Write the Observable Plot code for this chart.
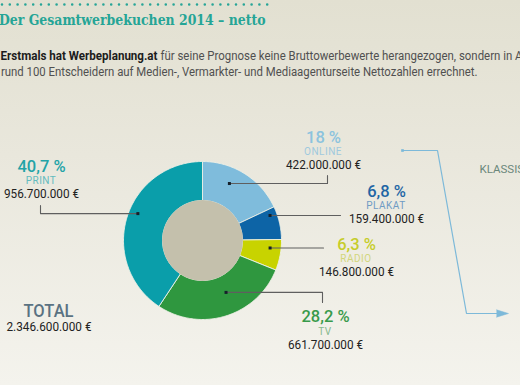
<!DOCTYPE html>
<html><head><meta charset="utf-8">
<script src="https://cdn.jsdelivr.net/npm/d3@7"></script>
<script src="https://cdn.jsdelivr.net/npm/@observablehq/plot@0.6"></script>
<style>
html,body{margin:0;padding:0;overflow:hidden;}
body{width:520px;height:385px;background:linear-gradient(to bottom,#e2e0d1 0%,#e9e7dc 40%,#f4f3ed 100%);}
#chart svg{display:block;overflow:hidden;}
</style></head><body><div id="chart"></div>
<script>
// ---------- data ----------
const categories = ["Online", "Plakat", "Radio", "TV", "Print"];
const shares = [18, 6.8, 6.3, 28.2, 40.7];
const shareLabels = ["18 %", "6,8 %", "6,3 %", "28,2 %", "40,7 %"];
const nameLabels = ["ONLINE", "PLAKAT", "RADIO", "TV", "PRINT"];
const amounts = [422000000, 159400000, 146800000, 661700000, 956700000];
const total = 2346600000;
const totalLabel = "TOTAL";
const titleText = "Der Gesamtwerbekuchen 2014 – netto";
const introBold = "Erstmals hat Werbeplanung.at";
const introLine1 = "für seine Prognose keine Bruttowerbewerte herangezogen, sondern in A";
const introLine2 = "rund 100 Entscheidern auf Medien-, Vermarkter- und Mediaagenturseite Nettozahlen errechnet.";
const sideLabel = "KLASSISCH";

// ---------- styles ----------
const sliceColors = ["#7fbcdc", "#0d64a6", "#c8d300", "#2f973f", "#0a9eaa"];
const pctColors = ["#8cc3de", "#1f66a5", "#c6cd2a", "#389a4a", "#23a3a7"];
const nameColors = ["#9fc9de", "#6f9bc4", "#d2d67c", "#86b98d", "#62bbbe"];

// ---------- layout ----------
const W = 520, H = 385;
const donut = {cx: 202, cy: 240, r0: 40, r1: 79};
const labelPos = [{x: 323, y: 142}, {x: 386, y: 196}, {x: 356, y: 249}, {x: 325, y: 321.5}, {x: 41, y: 171}];
const leaders = [
  {t: 0.39, r: 63, x: 327, y: 175},
  {t: 0.20, r: 72, x: 340, y: null},
  {t: 0.31, r: 68, x: 323, y: null},
  {t: 0.43, r: 57, x: 322, y: 302},
  {t: 0.54, r: 70, x: 40, y: 205}
];
const arrowPath = [{x: 402, y: 150}, {x: 437, y: 150}, {x: 466, y: 313}, {x: 498, y: 313}];
const arrowHead = [{x: 496, y: 309.3}, {x: 508, y: 313}, {x: 496, y: 316.7}];

const fmt = d3.formatLocale({decimal: ",", thousands: ".", grouping: [3], currency: ["", ""]}).format(",.0f");
const euro = v => fmt(v) + " €";

// slice polygons from shares
const sum = d3.sum(shares);
const cum = d3.cumsum(shares);
const slicePts = [];
const angles = categories.map((c, i) => {
  const a0 = (i ? cum[i - 1] : 0) / sum * 2 * Math.PI;
  const a1 = cum[i] / sum * 2 * Math.PI;
  return [a0, a1];
});
const pt = (a, r) => ({x: donut.cx + r * Math.sin(a), y: donut.cy - r * Math.cos(a)});
categories.forEach((c, i) => {
  const [a0, a1] = angles[i];
  const n = Math.max(2, Math.ceil((a1 - a0) / (Math.PI / 180)));
  const pts = [];
  for (let k = 0; k <= n; k++) pts.push(pt(a0 + (a1 - a0) * k / n, donut.r1));
  for (let k = n; k >= 0; k--) pts.push(pt(a0 + (a1 - a0) * k / n, donut.r0));
  pts.push(pts[0]);
  pts.forEach(p => slicePts.push({cat: c, ...p}));
});

// leader dots and lines
const dots = [], leaderPts = [];
categories.forEach((c, i) => {
  const [a0, a1] = angles[i];
  const L = leaders[i];
  const d = pt(a0 + (a1 - a0) * L.t, L.r);
  dots.push(d);
  leaderPts.push({k: i, ...d}, {k: i, x: L.x, y: d.y});
  if (L.y != null) leaderPts.push({k: i, x: L.x, y: L.y});
});

const marks = [
  Plot.ruleY([4], {x1: 2, x2: 270, stroke: "#27a597", strokeWidth: 2.6, strokeDasharray: "0 7.8", strokeLinecap: "round"}),
  Plot.text([titleText], {x: -1.5, y: 24, text: d => d, textAnchor: "start", lineAnchor: "bottom", fontFamily: "DejaVu Serif", fontWeight: 700, fontSize: 15.5, fill: "#25a596"}),
  Plot.text([introBold], {x: 0, y: 59, text: d => d, textAnchor: "start", lineAnchor: "bottom", fontFamily: "Roboto", fontWeight: 700, fontSize: 12, fill: "#1c1c1c"}),
  Plot.text([introLine1], {x: 160, y: 59, text: d => d, textAnchor: "start", lineAnchor: "bottom", fontFamily: "Roboto", fontWeight: 400, fontSize: 12, fill: "#505050"}),
  Plot.text([introLine2], {x: 0.5, y: 75, text: d => d, textAnchor: "start", lineAnchor: "bottom", fontFamily: "Roboto", fontWeight: 400, fontSize: 12, fill: "#505050"}),
  // donut
  Plot.line(slicePts, {x: "x", y: "y", z: "cat", fill: "cat", stroke: "#eef1e6", strokeWidth: 0.9, curve: "linear"}),
  Plot.dot([donut], {x: "cx", y: "cy", r: donut.r0 + 0.4, fill: "#c4c0ac"}),
  // leaders
  Plot.line(leaderPts, {x: "x", y: "y", z: "k", stroke: "#5f5f5f", strokeWidth: 1.1}),
  Plot.dot(dots, {x: "x", y: "y", symbol: "square", r: 1.7, fill: "#15202a"}),
  // arrow
  Plot.line(arrowPath, {x: "x", y: "y", stroke: "#7db9d9", strokeWidth: 1.2}),
  Plot.dot([arrowPath[0]], {x: "x", y: "y", symbol: "square", r: 1.5, fill: "#7db9d9"}),
  Plot.line(arrowHead, {x: "x", y: "y", fill: "#7db9d9", stroke: "#7db9d9", strokeWidth: 0.5}),
  Plot.text([sideLabel], {x: 479, y: 172, text: d => d, textAnchor: "start", lineAnchor: "bottom", fontFamily: "Roboto", fontWeight: 400, fontSize: 11.5, fill: "#6a877b"}),
  // total
  Plot.text([totalLabel], {x: 48, y: 316.5, text: d => d, lineAnchor: "bottom", fontFamily: "Roboto", fontWeight: 500, fontSize: 19, fill: "#5a7282"}),
  Plot.text([euro(total)], {x: 48.5, y: 330.5, text: d => d, lineAnchor: "bottom", fontFamily: "Roboto", fontSize: 12, fill: "#222"})
];
categories.forEach((c, i) => {
  const p = labelPos[i];
  marks.push(
    Plot.text([shareLabels[i]], {x: p.x, y: p.y, text: d => d, lineAnchor: "bottom", fontFamily: "Roboto", fontWeight: 500, fontSize: 16.5, fill: pctColors[i]}),
    Plot.text([nameLabels[i]], {x: p.x - 0.5, y: p.y + 12.5, text: d => d, lineAnchor: "bottom", fontFamily: "Roboto", fontWeight: 400, fontSize: 10, fill: nameColors[i]}),
    Plot.text([euro(amounts[i])], {x: p.x, y: p.y + 26.5, text: d => d, lineAnchor: "bottom", fontFamily: "Roboto", fontSize: 12, fill: "#222"})
  );
});

const chart = Plot.plot({
  width: W, height: H,
  margin: 0,
  style: {background: "transparent", overflow: "hidden"},
  x: {type: "linear", domain: [0, W], range: [0, W], axis: null},
  y: {type: "linear", domain: [0, H], range: [0, H], axis: null},
  color: {domain: categories, range: sliceColors},
  marks
});

// text fitting
const fits = {};
fits[titleText] = {len: 266.5};
fits[introBold] = {len: 157};
fits[introLine1] = {len: 362};
fits[introLine2] = {len: 476.5};
fits[totalLabel] = {len: 50};
nameLabels.forEach(n => fits[n] = {ls: 0.5});
amounts.forEach(a => fits[euro(a)] = {len: 75});
fits[euro(total)] = {len: 85};
chart.querySelectorAll("text").forEach(t => {
  const f = fits[t.textContent];
  if (!f) return;
  if (f.len) { t.setAttribute("textLength", f.len); t.setAttribute("lengthAdjust", "spacingAndGlyphs"); }
  if (f.ls) t.setAttribute("letter-spacing", f.ls);
});
document.getElementById("chart").appendChild(chart);
</script></body></html>
